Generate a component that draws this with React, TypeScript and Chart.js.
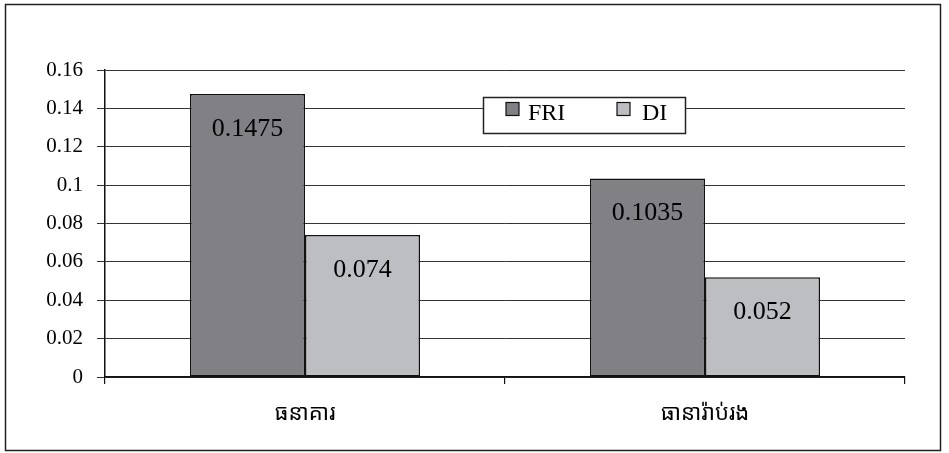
import React, { useEffect, useRef } from "react";
import { Chart, registerables } from "chart.js";

Chart.register(...registerables);

const categories = ["ធនាគារ", "ធានារ៉ាប់រង"];
const seriesNames = ["FRI", "DI"];
const friValues = [0.1475, 0.1035];
const diValues = [0.074, 0.052];
const valueLabels = [["0.1475", "0.1035"], ["0.074", "0.052"]];
const yTickLabels = ["0", "0.02", "0.04", "0.06", "0.08", "0.1", "0.12", "0.14", "0.16"];
const colors = ["#808085", "#BDBEC2"];

const SERIF = "'Liberation Serif', 'Times New Roman', serif";

export default function App() {
  const ref = useRef<HTMLCanvasElement | null>(null);
  useEffect(() => {
    document.body.style.margin = "0";
    const canvas = ref.current;
    if (!canvas) return;

    const framePlugin = {
      id: "frame",
      beforeDraw(chart: any) {
        const ctx = chart.ctx;
        ctx.save();
        ctx.fillStyle = "#fff";
        ctx.fillRect(0, 0, chart.width, chart.height);
        ctx.strokeStyle = "#222";
        ctx.lineWidth = 1.5;
        ctx.strokeRect(5.5, 4.5, 935, 446);
        ctx.restore();
      },
    };

    const labelPlugin = {
      id: "valueLabels",
      afterDatasetsDraw(chart: any) {
        const ctx = chart.ctx;
        ctx.save();
        ctx.font = "26px " + SERIF;
        ctx.fillStyle = "#000";
        ctx.textAlign = "center";
        ctx.textBaseline = "middle";
        chart.data.datasets.forEach((ds: any, di: number) => {
          const meta = chart.getDatasetMeta(di);
          meta.data.forEach((bar: any, i: number) => {
            ctx.fillText(valueLabels[di][i], bar.x, bar.y + 35);
          });
        });
        ctx.restore();
      },
    };

    const legendPlugin = {
      id: "boxLegend",
      afterDraw(chart: any) {
        const ctx = chart.ctx;
        ctx.save();
        const x = 483.5, y = 97.5, w = 202, h = 36;
        ctx.fillStyle = "#fff";
        ctx.fillRect(x, y, w, h);
        ctx.strokeStyle = "#222";
        ctx.lineWidth = 1.5;
        ctx.strokeRect(x, y, w, h);
        const items = [
          { mx: 506, tx: 528 },
          { mx: 617, tx: 642 },
        ];
        ctx.font = "24px " + SERIF;
        ctx.textBaseline = "alphabetic";
        ctx.textAlign = "left";
        items.forEach((it, i) => {
          ctx.fillStyle = colors[i];
          ctx.fillRect(it.mx, 102.5, 13, 13);
          ctx.strokeStyle = "#111";
          ctx.lineWidth = 1.2;
          ctx.strokeRect(it.mx, 102.5, 13, 13);
          ctx.fillStyle = "#000";
          ctx.fillText(seriesNames[i], it.tx, 119.5);
        });
        ctx.restore();
      },
    };

    const chart = new Chart(canvas, {
      type: "bar",
      data: {
        labels: categories,
        datasets: [
          {
            label: seriesNames[0],
            data: friValues,
            backgroundColor: colors[0],
            borderColor: "#111",
            borderWidth: 1.5,
            borderSkipped: false,
            categoryPercentage: 0.575,
            barPercentage: 1,
          },
          {
            label: seriesNames[1],
            data: diValues,
            backgroundColor: colors[1],
            borderColor: "#111",
            borderWidth: 1.5,
            borderSkipped: false,
            categoryPercentage: 0.575,
            barPercentage: 1,
          },
        ],
      },
      options: {
        animation: false,
        responsive: false,
        devicePixelRatio: 1,
        layout: { padding: { left: 0, right: 44, top: 70, bottom: 0 } },
        plugins: {
          legend: { display: false },
          tooltip: { enabled: false },
        },
        scales: {
          x: {
            grid: {
              offset: true,
              drawOnChartArea: false,
              drawTicks: true,
              tickLength: 7,
              color: "#111",
              lineWidth: 1.2,
            },
            border: { display: true, color: "#111", width: 1.5 },
            ticks: {
              color: "#000",
              font: { size: 22, family: "'Noto Sans Khmer', 'Khmer OS', 'Liberation Serif', serif" },
              padding: 17,
            },
            afterFit(scale: any) {
              scale.height = 76;
            },
          },
          y: {
            min: 0,
            max: 0.16,
            ticks: {
              stepSize: 0.02,
              color: "#000",
              font: { size: 21, family: SERIF },
              padding: 14,
              callback: (_v: any, i: number) => yTickLabels[i],
            },
            grid: {
              color: "#333",
              lineWidth: 1,
              drawTicks: true,
              tickLength: 8,
            },
            border: { display: true, color: "#111", width: 1.5 },
            afterFit(scale: any) {
              scale.width = 105;
            },
          },
        },
      },
      plugins: [framePlugin, labelPlugin, legendPlugin],
    });
    return () => chart.destroy();
  }, []);
  return (
    <div style={{ width: 949, height: 453 }}>
      <canvas ref={ref} width={949} height={453} style={{ display: "block" }} />
    </div>
  );
}
